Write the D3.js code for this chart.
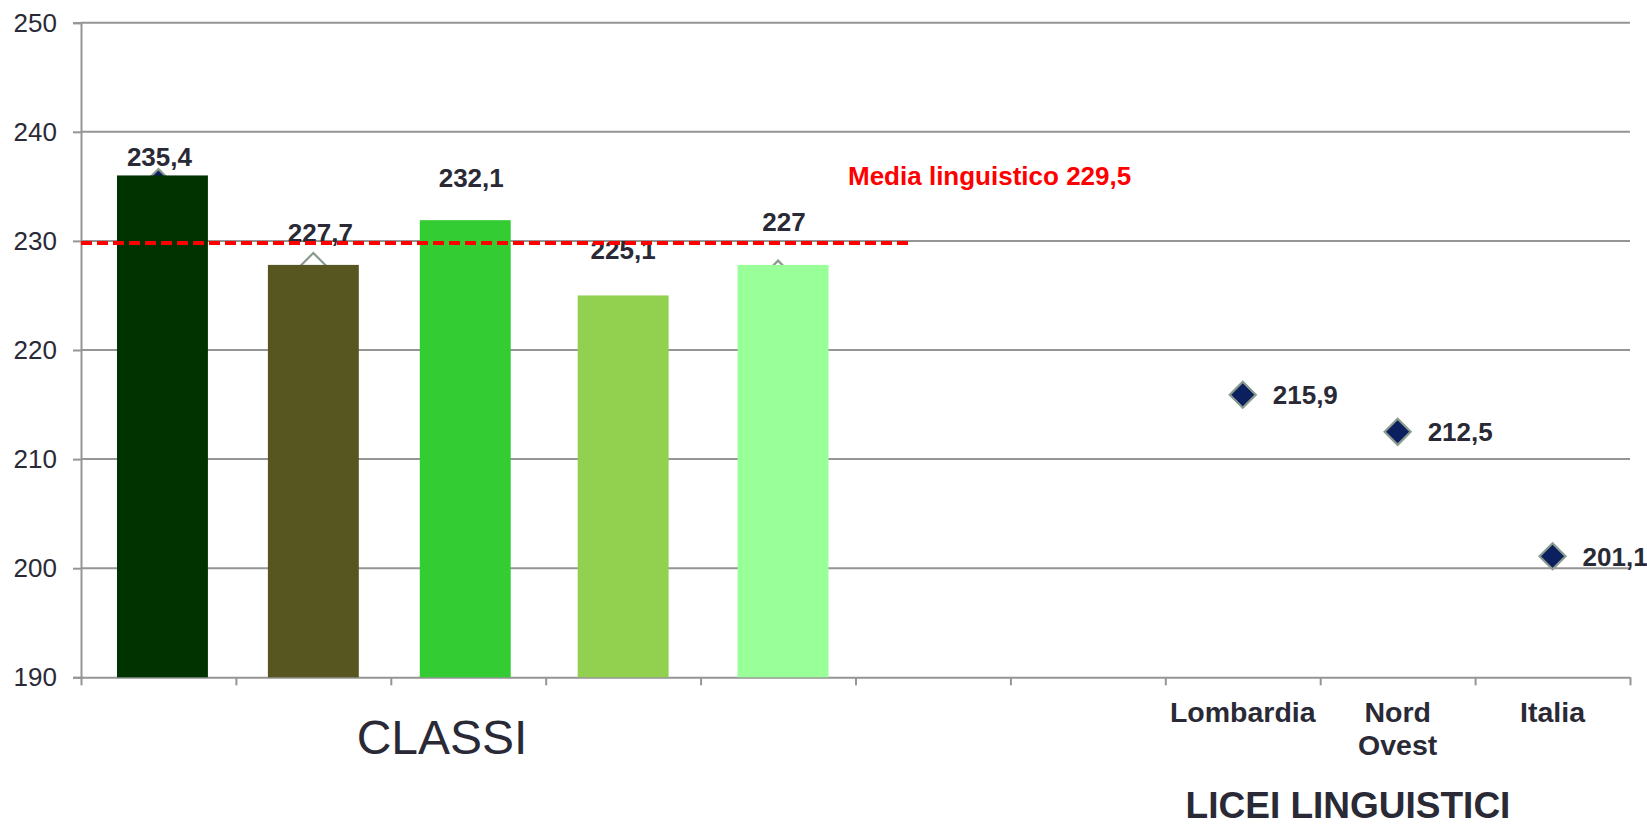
<!DOCTYPE html>
<html>
<head>
<meta charset="utf-8">
<script src="https://cdn.jsdelivr.net/npm/d3@7"></script>
<style>
  html, body { margin: 0; padding: 0; background: #ffffff; }
  svg { display: block; font-family: "Liberation Sans", Arial, sans-serif; }
</style>
</head>
<body>
<svg id="chart" width="1647" height="826"></svg>
<script>
// ---------------- DATA ----------------
const categories = ["Classe 1", "Classe 2", "Classe 3", "Classe 4", "Classe 5", "vuoto 1", "vuoto 2", "Lombardia", "Nord Ovest", "Italia"];
const tickLabels = [[], [], [], [], [], [], [], ["Lombardia"], ["Nord", "Ovest"], ["Italia"]];
const barCategories = ["Classe 1", "Classe 2", "Classe 3", "Classe 4", "Classe 5"];
const barValues = [236.0, 227.8, 231.9, 225.0, 227.8];
const pointCategories = ["Classe 1", "Classe 2", "Classe 3", "Classe 4", "Classe 5", "Lombardia", "Nord Ovest", "Italia"];
const pointValues = [235.4, 227.7, 232.1, 225.1, 227.0, 215.9, 212.5, 201.1];
const pointLabels = ["235,4", "227,7", "232,1", "225,1", "227", "215,9", "212,5", "201,1"];
const yTicks = [190, 200, 210, 220, 230, 240, 250];
const meanValue = 229.8;
const meanLabel = "Media linguistico 229,5";
const groupLabels = ["CLASSI", "LICEI LINGUISTICI"];

// ---------------- STYLE / LAYOUT ----------------
const barColors = ["#003300", "#575520", "#33cc33", "#92d050", "#99ff99"];
const barShift = [4, 0, -3, 0, 5];
const markerFills = ["#0c1f5e", "#ffffff", null, null, "#ffffff", "#0c1f5e", "#0c1f5e", "#0c1f5e"];
const classLabelOffsets = [[1, -16], [7, -24], [3, -31], [0, -35], [6, -43]];
const textColor = "#2a2a36";
const gridColor = "#959595";

const svg = d3.select("#chart");
const plotLeft = 81, plotRight = 1630, plotTop = 22.7, plotBottom = 677.3;

const x = d3.scaleBand().domain(categories).range([plotLeft, plotRight]).padding(0);
const xEdges = d3.scaleLinear().domain([0, categories.length]).range([plotLeft, plotRight]);
const y = d3.scaleLinear().domain([190, 250]).range([plotBottom, plotTop]);

// gridlines
svg.append("g").selectAll("line").data(yTicks.filter(t => t > 190)).join("line")
  .attr("x1", plotLeft).attr("x2", plotRight)
  .attr("y1", d => y(d)).attr("y2", d => y(d))
  .attr("stroke", gridColor).attr("stroke-width", 2);

// y axis
const yAxis = svg.append("g").attr("transform", `translate(${plotLeft},0)`)
  .call(d3.axisLeft(y).tickValues(yTicks).tickSize(8).tickPadding(16).tickFormat(d3.format("d")));
yAxis.select(".domain").attr("stroke", gridColor).attr("stroke-width", 2);
yAxis.selectAll(".tick line").attr("stroke", gridColor).attr("stroke-width", 2);
yAxis.selectAll(".tick text").attr("fill", textColor).attr("font-size", 26)
  .attr("font-family", "Liberation Sans, Arial, sans-serif");

// x axis (ticks at category boundaries)
const xAxis = svg.append("g").attr("transform", `translate(0,${plotBottom})`)
  .call(d3.axisBottom(xEdges).ticks(categories.length).tickSize(8).tickSizeOuter(0).tickFormat(""));
xAxis.select(".domain").attr("stroke", gridColor).attr("stroke-width", 2);
xAxis.selectAll(".tick line").attr("stroke", gridColor).attr("stroke-width", 2);

// category labels
const catG = svg.append("g");
categories.forEach((c, i) => {
  const lines = tickLabels[i];
  if (!lines.length) return;
  const cx = x(c) + x.bandwidth() / 2;
  const t = catG.append("text")
    .attr("x", cx)
    .attr("y", plotBottom + 45)
    .attr("text-anchor", "middle")
    .attr("font-size", 28.5).attr("font-weight", "bold").attr("fill", textColor);
  lines.forEach((ln, k) => {
    t.append("tspan").attr("x", cx).attr("dy", k === 0 ? 0 : 33).text(ln);
  });
});

// diamonds (drawn behind bars)
const r = 13;
const diamond = `M0,${-r}L${r},0L0,${r}L${-r},0Z`;
svg.append("g").selectAll("path")
  .data(pointValues.map((v, i) => ({ v, i, c: pointCategories[i], fill: markerFills[i] })).filter(d => d.fill))
  .join("path")
  .attr("d", diamond)
  .attr("transform", d => `translate(${x(d.c) + x.bandwidth() / 2},${y(d.v)})`)
  .attr("fill", d => d.fill)
  .attr("stroke", "#8a9a8c").attr("stroke-width", 2.2);

// bars
const bw = x.bandwidth() * 0.587;
svg.append("g").selectAll("rect").data(barValues).join("rect")
  .attr("x", (d, i) => x(barCategories[i]) + (x.bandwidth() - bw) / 2 + barShift[i])
  .attr("width", bw)
  .attr("y", d => y(d))
  .attr("height", d => y(190) - y(d))
  .attr("fill", (d, i) => barColors[i]);

// point labels
svg.append("g").selectAll("text").data(pointValues).join("text")
  .attr("x", (d, i) => {
    const cx = x(pointCategories[i]) + x.bandwidth() / 2;
    return i < 5 ? cx + classLabelOffsets[i][0] : cx + 30;
  })
  .attr("y", (d, i) => i < 5 ? y(d) + classLabelOffsets[i][1] : y(d) + 9.5)
  .attr("text-anchor", (d, i) => i < 5 ? "middle" : "start")
  .attr("font-size", 26).attr("font-weight", "bold").attr("fill", textColor)
  .text((d, i) => pointLabels[i]);

// mean line
svg.append("line")
  .attr("x1", plotLeft).attr("x2", 908)
  .attr("y1", y(meanValue)).attr("y2", y(meanValue))
  .attr("stroke", "#ff0000").attr("stroke-width", 4)
  .attr("stroke-dasharray", "11 5");

svg.append("text")
  .attr("x", 848).attr("y", 185)
  .attr("font-size", 26).attr("font-weight", "bold").attr("fill", "#ff0000")
  .text(meanLabel);

// group labels
svg.append("text").attr("x", 442).attr("y", 754).attr("text-anchor", "middle")
  .attr("font-size", 48).attr("fill", textColor).text(groupLabels[0]);
svg.append("text").attr("x", 1348).attr("y", 818).attr("text-anchor", "middle")
  .attr("font-size", 37).attr("font-weight", "bold").attr("fill", textColor).text(groupLabels[1]);
</script>
</body>
</html>
